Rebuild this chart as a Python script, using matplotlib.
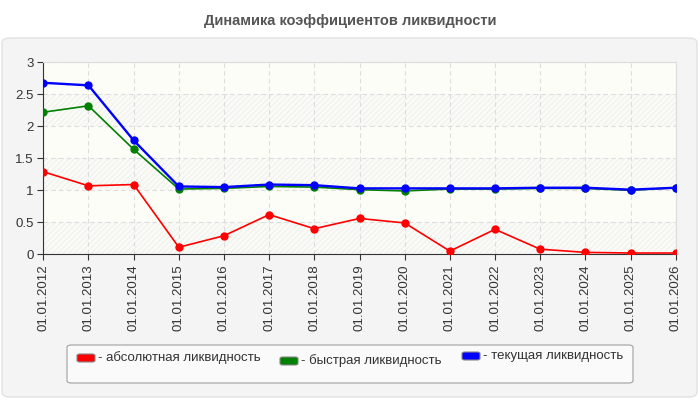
import matplotlib.pyplot as plt
from matplotlib.patches import FancyBboxPatch

# ---- DATA ----
years = list(range(2012, 2027))
dates = [f"01.01.{y}" for y in years]
absolute = [1.29, 1.07, 1.09, 0.11, 0.29, 0.62, 0.40, 0.56, 0.49,
            0.05, 0.39, 0.08, 0.03, 0.02, 0.02]
quick = [2.22, 2.32, 1.64, 1.02, 1.03, 1.06, 1.05, 1.01, 0.99,
         1.02, 1.02, 1.03, 1.03, 1.00, 1.04]
current = [2.68, 2.64, 1.78, 1.06, 1.05, 1.09, 1.08, 1.03, 1.03,
           1.03, 1.03, 1.04, 1.04, 1.01, 1.04]
yticks = [0, 0.5, 1, 1.5, 2, 2.5, 3]
ytick_labels = ["0", "0.5", "1", "1.5", "2", "2.5", "3"]
series_names = ["- абсолютная ликвидность", "- быстрая ликвидность",
                "- текущая ликвидность"]
colors = ["#ff0000", "#008000", "#0000ff"]

plt.rcParams["font.family"] = ["Liberation Sans", "DejaVu Sans"]
plt.rcParams["hatch.color"] = "#ebebe8"
plt.rcParams["hatch.linewidth"] = 0.5

W, H = 700, 400
fig = plt.figure(figsize=(7, 4), dpi=100)
fig.patch.set_facecolor("white")

# outer grey panel
panel = FancyBboxPatch((2 / W, 3 / H), 695 / W, 359 / H,
                       boxstyle="round,pad=0,rounding_size=0.012",
                       transform=fig.transFigure, facecolor="#f4f4f4",
                       edgecolor="#e2e2e2", linewidth=1, zorder=-2)
fig.patches.append(panel)

fig.text(0.5, 1 - 21 / H, "Динамика коэффициентов ликвидности",
         ha="center", va="center", fontsize=10.5, fontweight="bold",
         color="#555555")

ax = fig.add_axes([43.3 / W, 1 - 254.3 / H, 632.4 / W, 192 / H])
ax.set_zorder(1)
ax.set_facecolor("#fdfdf7")
x = list(range(len(years)))

# alternating hatched bands
for lo in [0, 1, 2]:
    ax.axhspan(lo, lo + 0.5, facecolor="#fafaf7", hatch="//////",
               edgecolor="#ebebe8", linewidth=0, zorder=0)

ax.plot(x, absolute, color=colors[0], lw=1.2, marker="o", ms=5, zorder=3)
ax.plot(x, quick, color=colors[1], lw=1.2, marker="o", ms=5, zorder=4)
ax.plot(x, current, color=colors[2], lw=1.7, marker="o", ms=5, zorder=5)

ax.set_xlim(0, len(years) - 1)
ax.set_ylim(0, 3)
ax.set_xticks(x)
ax.set_xticklabels(dates, rotation=90, fontsize=9.5, color="#333333")
ax.set_yticks(yticks)
ax.set_yticklabels(ytick_labels, fontsize=9.5, color="#333333")
ax.tick_params(length=4, color="#333333", pad=3)
ax.grid(True, color="#dddddd", linestyle=(0, (4, 3)), linewidth=0.8, zorder=1)
ax.set_axisbelow(True)
for side in ["top", "right"]:
    ax.spines[side].set_color("#dddddd")
for side in ["left", "bottom"]:
    ax.spines[side].set_color("#333333")

# legend box drawn by hand
leg = FancyBboxPatch((67 / W, 1 - 383 / H), 566 / W, 38 / H,
                     boxstyle="round,pad=0,rounding_size=0.006",
                     transform=fig.transFigure, facecolor="#fafafa",
                     edgecolor="#a0a0a0", linewidth=0.8, zorder=2)
fig.patches.append(leg)
swatch_x = [77, 280, 462]
swatch_y = [358, 361, 356]
for sx, sy, c, name in zip(swatch_x, swatch_y, colors, series_names):
    sw = FancyBboxPatch((sx / W, 1 - (sy + 4) / H), 18 / W, 8 / H,
                        boxstyle="round,pad=0,rounding_size=0.004",
                        transform=fig.transFigure, facecolor=c,
                        edgecolor="#888888", linewidth=0.8, zorder=3)
    fig.patches.append(sw)
    fig.text((sx + 21) / W, 1 - sy / H, name, ha="left", va="center",
             fontsize=9.5, color="#333333", zorder=4)

plt.savefig("out.png", dpi=100)
